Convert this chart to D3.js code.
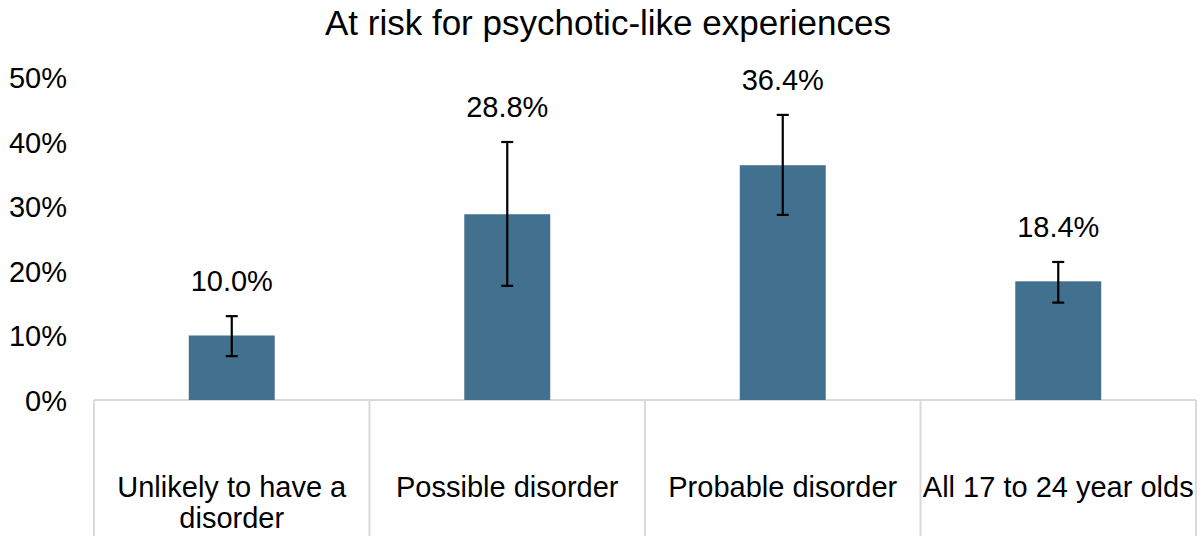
<!DOCTYPE html>
<html>
<head>
<meta charset="utf-8">
<script src="https://cdn.jsdelivr.net/npm/d3@7"></script>
<style>
  html, body { margin: 0; padding: 0; background: #fff; }
  svg { display: block; font-family: "Liberation Sans", Arial, sans-serif; }
</style>
</head>
<body>
<svg id="chart" width="1204" height="536"></svg>
<script>
// Chart content
const title = "At risk for psychotic-like experiences";
const categories = [
  ["Unlikely to have a", "disorder"],
  ["Possible disorder"],
  ["Probable disorder"],
  ["All 17 to 24 year olds"]
];
const values = [10.0, 28.8, 36.4, 18.4];
const lowerCI = [6.8, 17.7, 28.7, 15.1];
const upperCI = [13.0, 40.0, 44.2, 21.4];
const yTicks = [0, 10, 20, 30, 40, 50];

const svg = d3.select("#chart");
const W = 1204, H = 536;
const plot = { left: 94, right: 1196, top: 77.5, bottom: 400 };
const fontSize = 29;

const x = d3.scaleBand()
  .domain(categories.map((d, i) => i))
  .range([plot.left, plot.right])
  .padding(0);

const y = d3.scaleLinear()
  .domain([0, 50])
  .range([plot.bottom, plot.top]);

const barW = x.bandwidth() * 0.312;
const barColor = "#41718f";
const gridGray = "#d9d9d9";

// Title
svg.append("text")
  .attr("x", 608)
  .attr("y", 35)
  .attr("text-anchor", "middle")
  .attr("font-size", 35)
  .attr("fill", "#000")
  .text(title);

// Y axis labels (no axis line)
const yAxis = d3.axisLeft(y)
  .tickValues(yTicks)
  .tickFormat(d => d + "%")
  .tickSize(0)
  .tickPadding(0);
const gy = svg.append("g")
  .attr("transform", `translate(67,0)`)
  .call(yAxis);
gy.select(".domain").remove();
gy.selectAll("text")
  .attr("font-size", fontSize)
  .attr("fill", "#000")
  .attr("font-family", "Liberation Sans, Arial, sans-serif")
  .attr("dy", "0.35em");

// Category axis: baseline and boxes between categories
svg.append("line")
  .attr("x1", plot.left).attr("x2", plot.right)
  .attr("y1", plot.bottom).attr("y2", plot.bottom)
  .attr("stroke", gridGray).attr("stroke-width", 2);

const dividers = categories.map((d, i) => x(i)).concat([plot.right]);
svg.selectAll("line.div")
  .data(dividers)
  .join("line")
  .attr("class", "div")
  .attr("x1", d => d).attr("x2", d => d)
  .attr("y1", plot.bottom).attr("y2", H)
  .attr("stroke", gridGray).attr("stroke-width", 2);

// Bars
svg.selectAll("rect.bar")
  .data(values)
  .join("rect")
  .attr("class", "bar")
  .attr("x", (d, i) => x(i) + x.bandwidth() / 2 - barW / 2)
  .attr("width", barW)
  .attr("y", d => y(d))
  .attr("height", d => y(0) - y(d))
  .attr("fill", barColor);

// Error bars
const capW = 12;
const eb = svg.selectAll("g.err")
  .data(values.map((v, i) => ({ i, lo: lowerCI[i], hi: upperCI[i] })))
  .join("g")
  .attr("class", "err")
  .attr("stroke", "#000")
  .attr("stroke-width", 2.2);
eb.append("line")
  .attr("x1", d => x(d.i) + x.bandwidth() / 2)
  .attr("x2", d => x(d.i) + x.bandwidth() / 2)
  .attr("y1", d => y(d.lo)).attr("y2", d => y(d.hi));
eb.append("line")
  .attr("x1", d => x(d.i) + x.bandwidth() / 2 - capW / 2)
  .attr("x2", d => x(d.i) + x.bandwidth() / 2 + capW / 2)
  .attr("y1", d => y(d.hi)).attr("y2", d => y(d.hi));
eb.append("line")
  .attr("x1", d => x(d.i) + x.bandwidth() / 2 - capW / 2)
  .attr("x2", d => x(d.i) + x.bandwidth() / 2 + capW / 2)
  .attr("y1", d => y(d.lo)).attr("y2", d => y(d.lo));

// Value labels above the error bars
svg.selectAll("text.val")
  .data(values)
  .join("text")
  .attr("class", "val")
  .attr("x", (d, i) => x(i) + x.bandwidth() / 2)
  .attr("y", (d, i) => y(upperCI[i]) - 25)
  .attr("text-anchor", "middle")
  .attr("font-size", fontSize)
  .attr("fill", "#000")
  .text(d => d.toFixed(1) + "%");

// Category labels
const cat = svg.selectAll("text.cat")
  .data(categories)
  .join("text")
  .attr("class", "cat")
  .attr("x", (d, i) => x(i) + x.bandwidth() / 2)
  .attr("y", 497)
  .attr("text-anchor", "middle")
  .attr("font-size", fontSize)
  .attr("fill", "#000");
cat.selectAll("tspan")
  .data(d => d)
  .join("tspan")
  .attr("x", function () { return d3.select(this.parentNode).attr("x"); })
  .attr("dy", (d, j) => j === 0 ? 0 : 31)
  .text(d => d);
</script>
</body>
</html>
